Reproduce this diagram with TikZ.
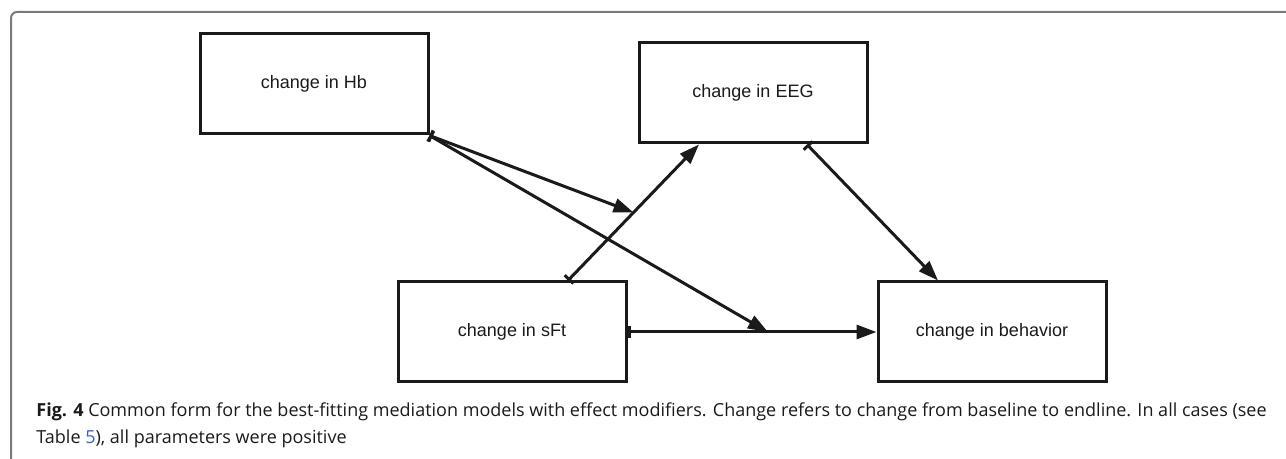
\documentclass[tikz,border=0pt]{standalone}
\usepackage{fontspec}
\setmainfont{Liberation Sans}
\newfontfamily\capfont{Open Sans}
\usetikzlibrary{arrows.meta,positioning,calc}
\definecolor{Ink}{HTML}{1A1A1A}
\definecolor{Frame}{HTML}{7A7A7A}
\definecolor{Link}{HTML}{3B5FC9}

\tikzset{
  varbox/.style={draw=Ink, line width=1.5pt, minimum width=114pt, minimum height=50pt,
    font=\fontsize{9}{11}\selectfont, text=Ink},
  effect/.style={draw=Ink, line width=1.5pt,
    {Bar[width=6pt]}-{Triangle[length=10pt,width=7pt]}},
}

\begin{document}
\begin{tikzpicture}[x=0.5pt,y=-0.5pt]
        \useasboundingbox (0,0) rectangle (1286,459);
        \draw[Frame, line width=1pt, rounded corners=3pt] (11,459) -- (11,12) -- (1286,12);

        \node[varbox] (hb) at (314,84) {change in Hb};
        \node[varbox] (eeg) at (753,93) {change in EEG};
        \node[varbox] (sft) at (512,332) {change in sFt};
        \node[varbox] (beh) at (992,332) {change in behavior};

        \coordinate (sfttop) at ([xshift=28pt]sft.north);
        \coordinate (eegbot) at ([xshift=-27pt]eeg.south);
        \coordinate (m1) at ($(sfttop)!0.5!(eegbot)$);
        \coordinate (m2) at ($(sft.east)!0.564!(beh.west)$);

        \draw[effect] (sfttop) -- (eegbot);
        \draw[effect] ([xshift=27pt]eeg.south) -- ([xshift=-27pt]beh.north);
        \draw[effect] (sft.east) -- (beh.west);
        \draw[effect] (hb.south east) -- (m1);
        \draw[effect] (hb.south east) -- (m2);

        \node[anchor=base west, align=left, text=Ink, inner sep=0pt,
          font=\capfont\fontsize{9}{13.5}\selectfont] (caption) at (36,444)
          {\textbf{Fig. 4} Common form for the best-fitting mediation models with effect modifiers. Change refers to change from baseline to endline. In all cases (see\\
           Table \textcolor{Link}{5}), all parameters were positive};
      \end{tikzpicture}
\end{document}
